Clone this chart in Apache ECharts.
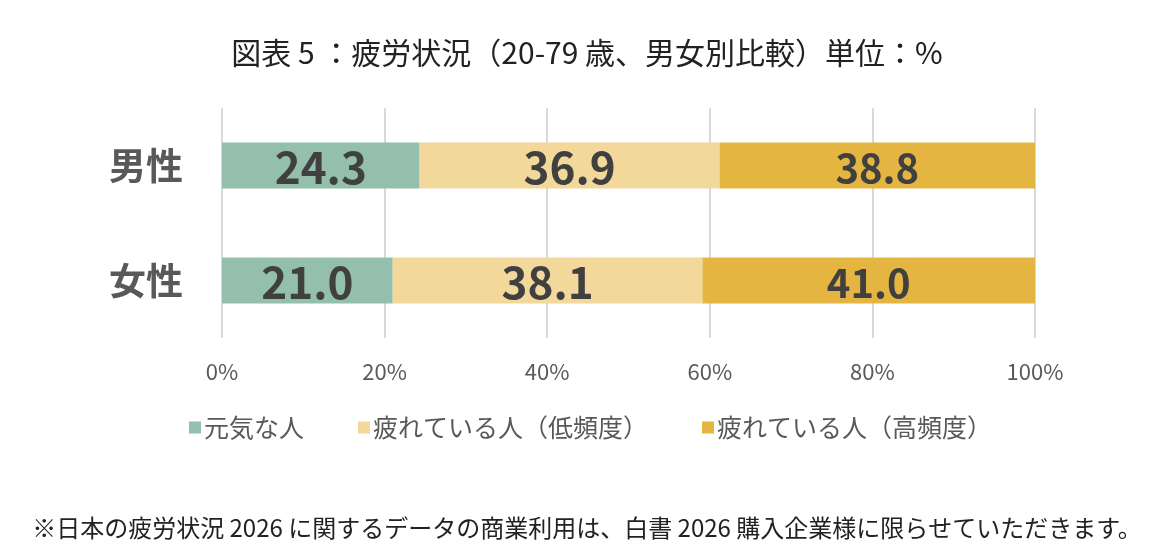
<!DOCTYPE html>
<html>
<head>
<meta charset="utf-8">
<script src="https://cdn.jsdelivr.net/npm/echarts@6/dist/echarts.min.js"></script>
<style>
  html, body { margin: 0; padding: 0; background: #fff; }
  #chart { width: 1174px; height: 559px; }
</style>
</head>
<body>
<div id="chart"></div>
<script>
const categories = ['男性', '女性'];
const seriesNames = ['元気な人', '疲れている人（低頻度）', '疲れている人（高頻度）'];
const genki = [24.3, 21.0];
const tiredLow = [36.9, 38.1];
const tiredHigh = [38.8, 41.0];
const xTicks = [0, 20, 40, 60, 80, 100];

const colors = ['#93BFAC', '#F2D89B', '#E4B641'];
const FONT = '"Noto Sans CJK JP", "Noto Sans", sans-serif';

const chart = echarts.init(document.getElementById('chart'));

function makeSeries(name, data, color, labelSize) {
    return {
        name: name,
        type: 'bar',
        stack: 'total',
        data: data,
        barWidth: 46,
        itemStyle: { color: color },
        label: {
            show: true,
            position: 'inside',
            offset: [0, 2],
            formatter: p => p.value.toFixed(1),
            fontFamily: FONT,
            fontWeight: 'bold',
            fontSize: labelSize,
            color: '#404040'
        }
    };
}

chart.setOption({
    animation: false,
    textStyle: { fontFamily: FONT },
    title: [
        {
            text: '図表 5 ：疲労状況（20-79 歳、男女別比較）単位：%',
            left: 'center',
            top: 33,
            textStyle: { fontFamily: FONT, fontSize: 30, fontWeight: 'normal', color: '#222' }
        },
        {
            text: '※日本の疲労状況 2026 に関するデータの商業利用は、白書 2026 購入企業様に限らせていただきます。',
            left: 'center',
            top: 511,
            textStyle: { fontFamily: FONT, fontSize: 24, fontWeight: 'normal', color: '#222' }
        }
    ],
    legend: {
        data: seriesNames,
        left: 184,
        top: 410,
        itemWidth: 12,
        itemHeight: 12,
        itemGap: 54,
        icon: 'rect',
        textStyle: { fontFamily: FONT, fontSize: 25, color: '#595959', padding: [0, 0, 0, -2] }
    },
    grid: { left: 222, right: 139, top: 108, bottom: 221, containLabel: false },
    xAxis: {
        type: 'value',
        min: xTicks[0],
        max: xTicks[xTicks.length - 1],
        interval: 20,
        axisLine: { show: false },
        axisTick: { show: false },
        axisLabel: {
            formatter: '{value}%',
            margin: 23,
            fontFamily: FONT,
            fontSize: 22,
            color: '#595959'
        },
        splitLine: { show: true, lineStyle: { color: '#D9D9D9', width: 2 } }
    },
    yAxis: {
        type: 'category',
        data: categories,
        inverse: true,
        axisLine: { show: false },
        axisTick: { show: false },
        axisLabel: {
            margin: 39,
            fontFamily: FONT,
            fontSize: 37,
            fontWeight: 'bold',
            color: '#595959'
        }
    },
    series: [
        makeSeries(seriesNames[0], genki, colors[0], 44),
        makeSeries(seriesNames[1], tiredLow, colors[1], 44),
        makeSeries(seriesNames[2], tiredHigh, colors[2], 40)
    ]
});
</script>
</body>
</html>
